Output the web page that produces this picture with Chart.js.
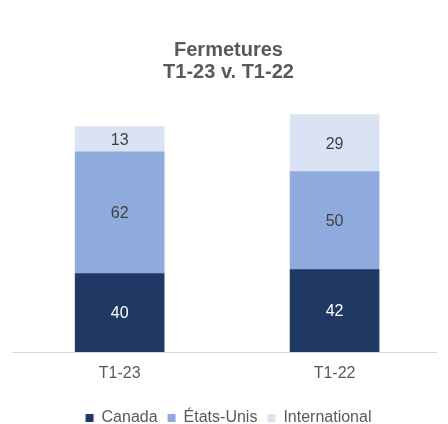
<!DOCTYPE html>
<html>
<head>
<meta charset="utf-8">
<script src="https://cdn.jsdelivr.net/npm/chart.js@4.4.0/dist/chart.umd.min.js"></script>
<style>
  html, body { margin: 0; padding: 0; background: #fff; }
  #wrap { width: 448px; height: 424px; }
</style>
</head>
<body>
<div id="wrap"><canvas id="fermChart" width="448" height="424"></canvas></div>
<script>
// values
const periods = ['T1-23', 'T1-22'];
const canada = [40, 42];
const etatsUnis = [62, 50];
const international = [13, 29];

const grey = '#595959';
const fam = '"Liberation Sans", Arial, sans-serif';

// bars sit on a numeric x axis (0, 1) so the spacing can match the picture
const toPoints = arr => arr.map((v, i) => ({ x: i, y: v }));

// value in the middle of each stacked segment
const segLabels = {
  id: 'segLabels',
  afterDatasetsDraw(chart) {
    const ctx = chart.ctx;
    ctx.save();
    ctx.font = '16px ' + fam;
    ctx.textAlign = 'center';
    ctx.textBaseline = 'middle';
    chart.data.datasets.forEach((ds, i) => {
      chart.getDatasetMeta(i).data.forEach((bar, j) => {
        ctx.fillStyle = i === 0 ? '#ffffff' : '#404040';
        ctx.fillText(ds.data[j].y, bar.x, (bar.y + bar.base) / 2 + 1);
      });
    });
    ctx.restore();
  }
};

new Chart(document.getElementById('fermChart'), {
  type: 'bar',
  data: {
    datasets: [
      { label: 'Canada', data: toPoints(canada), backgroundColor: '#203864' },
      { label: 'États-Unis', data: toPoints(etatsUnis), backgroundColor: '#8FAADC' },
      { label: 'International', data: toPoints(international), backgroundColor: '#DAE3F3' }
    ]
  },
  options: {
    responsive: false,
    animation: false,
    layout: { padding: { left: 9, right: 0, top: 39, bottom: -12 } },
    datasets: { bar: { barThickness: 89, borderWidth: 0 } },
    plugins: {
      title: {
        display: true,
        text: ['Fermetures', 'T1-23 v. T1-22'],
        color: grey,
        font: { family: fam, size: 20, weight: 'bold', lineHeight: 1.1 },
        padding: { top: 0, bottom: 16 }
      },
      legend: {
        position: 'bottom',
        labels: { color: grey, font: { family: fam, size: 16 }, boxWidth: 8, boxHeight: 8, padding: 10 }
      },
      tooltip: { enabled: false }
    },
    scales: {
      x: {
        type: 'linear',
        stacked: true,
        offset: false,
        min: -0.501,
        max: 1.472,
        grid: { display: false, drawTicks: false },
        border: { display: true, color: '#d9d9d9', width: 1 },
        ticks: {
          stepSize: 1,
          color: grey,
          font: { family: fam, size: 16 },
          padding: 12,
          callback: v => Number.isInteger(v) ? periods[v] : ''
        },
        afterFit(scale) { scale.height = 48; }
      },
      y: { stacked: true, display: false, min: 0, max: 129 }
    }
  },
  plugins: [segLabels]
});
</script>
</body>
</html>
